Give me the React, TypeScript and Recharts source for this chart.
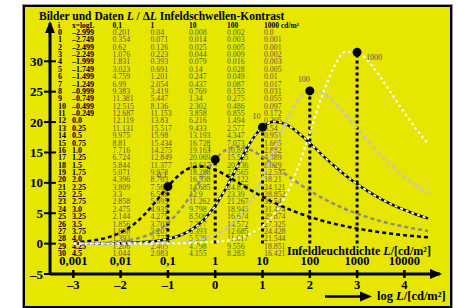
import React from 'react';
import { ComposedChart, Line, XAxis, YAxis, Scatter, ReferenceLine } from 'recharts';

// x = log L, one row per table index i
const xLog = [-2.999, -2.749, -2.499, -2.249, -1.999, -1.749, -1.499, -1.249, -0.999, -0.749, -0.499, -0.249,
  0.0, 0.25, 0.5, 0.75, 1.0, 1.25, 1.5, 1.75, 2.0, 2.25, 2.5, 2.75, 3.0, 3.25, 3.5, 3.75, 4.0, 4.25, 4.5];

// threshold contrast for the five adaptation luminances
const lum01 = [0.201, 0.354, 0.62, 1.076, 1.831, 3.023, 4.759, 6.99, 9.383, 11.381, 12.515, 12.687, 12.119, 11.131,
  9.975, 8.81, 7.716, 6.724, 5.844, 5.071, 4.396, 3.809, 3.3, 2.858, 2.475, 2.144, 1.856, 1.608, 1.392, 1.206, 1.044];
const lum1 = [0.04, 0.071, 0.126, 0.223, 0.393, 0.691, 1.201, 2.054, 3.419, 5.447, 8.136, 11.153, 13.83, 15.517,
  15.98, 15.434, 14.275, 12.849, 11.377, 9.978, 8.703, 7.565, 6.568, 5.695, 4.935, 4.275, 3.703, 3.207, 2.777, 2.405, 2.083];
const lum10 = [0.008, 0.014, 0.025, 0.044, 0.079, 0.14, 0.247, 0.437, 0.769, 1.34, 2.302, 3.858, 6.216, 9.433,
  13.193, 16.728, 19.163, 20.069, 19.617, 18.288, 16.538, 14.685, 12.9, 11.262, 9.798, 8.506, 7.377, 6.393, 5.539, 4.798, 4.155];
const lum100 = [0.002, 0.003, 0.005, 0.009, 0.016, 0.028, 0.049, 0.087, 0.155, 0.275, 0.486, 0.855, 1.494, 2.577,
  4.347, 7.073, 10.894, 15.565, 20.136, 23.565, 25.122, 24.878, 23.39, 21.267, 18.945, 16.674, 14.572, 12.685, 11.017, 9.556, 8.283];
const lum1000 = [0.0, 0.001, 0.001, 0.002, 0.003, 0.005, 0.01, 0.017, 0.031, 0.055, 0.097, 0.172, 0.305, 0.54,
  0.951, 1.665, 2.882, 4.889, 8.029, 12.537, 18.21, 24.121, 28.852, 31.54, 31.474, 29.874, 27.325, 24.428, 21.544, 18.851, 16.421];

const lumHeaders = ['0,1', '1', '10', '100', '1000 cd/m²'];
const markerX = [-1, 0, 1, 2, 3];
const markerLabels = ['0.1', '1', '10', '100', '1000'];
const xTicks = [-3, -2, -1, 0, 1, 2, 3, 4];
const xTickLabels = ['–3', '–2', '–1', '0', '1', '2', '3', '4'];
const lumTickLabels = ['0,001', '0,01', '0,1', '1', '10', '100', '1000', '10000'];
const yTicks = [-5, 0, 5, 10, 15, 20, 25, 30];
const yTickLabels = ['–5', '0', '5', '10', '15', '20', '25', '30'];

const W = 457;
const H = 308;
const FONT = '"Liberation Serif", "Times New Roman", serif';
const YELLOW = '#e6e600';
const colX = [112.5, 150.5, 189, 227, 264];

const fmt = (v: number) => (Number.isInteger(v) ? v.toFixed(1) : String(v)).replace('-', '–');

const series = [lum01, lum1, lum10, lum100, lum1000];
const rows = xLog.map((x, i) => ({ x, c0: lum01[i], c1: lum1[i], c2: lum10[i], c3: lum100[i], c4: lum1000[i] }));
const markers = markerX.map((x, k) => {
  const i = xLog.findIndex(v => Math.abs(v - x) < 0.01);
  return { x, y: series[k][i], label: markerLabels[k], k };
});

const XTick = (p: any) => {
  const { x, y, payload } = p;
  const idx = xTicks.indexOf(payload.value);
  return (
    <g>
      <line x1={x} x2={x} y1={y - 4} y2={y + 4} stroke="#000" strokeWidth={2.5} />
      <text x={x} y={y - 9} textAnchor="middle" fontWeight="bold" fontSize={12.5} fontFamily={FONT} fill="#000">
        {lumTickLabels[idx]}
      </text>
      <text x={x} y={y + 15} textAnchor="middle" fontWeight="bold" fontSize={12.5} fontFamily={FONT} fill="#000">
        {xTickLabels[idx]}
      </text>
    </g>
  );
};

const YTick = (p: any) => {
  const { x, y, payload } = p;
  const idx = yTicks.indexOf(payload.value);
  return (
    <g>
      <line x1={x - 6} x2={x + 6} y1={y} y2={y} stroke="#000" strokeWidth={2} />
      <text x={x - 7} y={y + 4.5} textAnchor="end" fontWeight="bold" fontSize={13} fontFamily={FONT} fill="#000">
        {yTickLabels[idx]}
      </text>
    </g>
  );
};

const MarkerShape = (p: any) => {
  const { cx, cy, payload } = p;
  const last = payload.k === markerLabels.length - 1;
  return (
    <g>
      <circle cx={cx} cy={cy} r={4.5} fill="#000" />
      <text x={last ? cx + 9 : cx - 6} y={last ? cy + 8 : cy - 8.5} textAnchor={last ? 'start' : 'middle'}
        fontSize={8} fontFamily={FONT} fill="#555">{payload.label}</text>
    </g>
  );
};

export default function App() {
  return (
    <div style={{ position: 'absolute', left: 0, top: 0, width: W, height: H, background: '#fff', overflow: 'hidden' }}>
      <div style={{ position: 'absolute', left: 22, top: 4, width: 431, height: 304, boxSizing: 'border-box', border: '1px solid #9a9a9a' }} />
      <div style={{ position: 'absolute', left: 23, top: 5, width: 429, height: 303, boxSizing: 'border-box', border: '2px solid #000', background: YELLOW }} />

      {/* title and value table, underneath the curves */}
      <svg width={W} height={H} style={{ position: 'absolute', left: 0, top: 0 }} fontFamily={FONT}>
        <text x={39} y={19.5} fontWeight="bold" fontSize={11.5} fill="#000">
          Bilder und Daten <tspan fontStyle="italic">L</tspan> / Δ<tspan fontStyle="italic">L</tspan>{'  '}Infeldschwellen-Kontrast
        </text>
        <text x={58} y={28} fontWeight="bold" fontSize={7.5}>i</text>
        <text x={72} y={28} fontWeight="bold" fontSize={7.5}>x=logL</text>
        {lumHeaders.map((h, k) => (
          <text key={h} x={colX[k]} y={28} fontWeight="bold" fontSize={7.5}>{h}</text>
        ))}
        {xLog.map((x, i) => {
          const y = 35 + i * 7.367;
          return (
            <g key={i}>
              <text x={58} y={y} fontWeight="bold" fontSize={8} fill="#000">{i}</text>
              <text x={72} y={y} fontWeight="bold" fontSize={8} fill="#000">{fmt(x)}</text>
              {series.map((s, k) => (
                <text key={k} x={colX[k]} y={y} fontSize={7.8} fill="#5a5a3a">{fmt(s[i])}</text>
              ))}
            </g>
          );
        })}
      </svg>

      <div style={{ position: 'absolute', left: 0, top: 0 }}>
        <ComposedChart width={W} height={H} data={rows} margin={{ top: 23, right: 17, bottom: 0, left: 10 }}>
          <XAxis type="number" dataKey="x" domain={[-3.493, 4.753]} ticks={xTicks} interval={0} allowDataOverflow
            axisLine={{ stroke: '#000', strokeWidth: 3 }} tickLine={false} tickSize={0} tickMargin={0}
            tick={(p: any) => <XTick {...p} />} height={34} />
          <YAxis type="number" domain={[-5, 36.3]} ticks={yTicks} interval={0} allowDataOverflow
            axisLine={{ stroke: '#000', strokeWidth: 3 }} tickLine={false} tickSize={0} tickMargin={0}
            tick={(p: any) => <YTick {...p} />} width={40} />
          {markers.map(m => (
            <ReferenceLine key={`v${m.x}`} segment={[{ x: m.x, y: 0 }, { x: m.x, y: m.y }]}
              stroke="#000" strokeWidth={3} strokeDasharray="3 3" ifOverflow="visible" />
          ))}
          <Line type="monotone" dataKey="c0" stroke="#000" strokeWidth={2.5} strokeDasharray="4 3" dot={false} isAnimationActive={false} />
          <Line type="monotone" dataKey="c1" stroke="#8c8c8c" strokeWidth={2.5} strokeDasharray="4 3" dot={false} isAnimationActive={false} />
          <Line type="monotone" dataKey="c2" stroke="#000" strokeWidth={2.5} dot={false} isAnimationActive={false} />
          <Line type="monotone" dataKey="c2" name="c2w" stroke="#fff" strokeWidth={1.8} strokeDasharray="3 3" dot={false} isAnimationActive={false} />
          <Line type="monotone" dataKey="c3" stroke="#c4c4c4" strokeWidth={2.5} strokeDasharray="4 3" dot={false} isAnimationActive={false} />
          <Line type="monotone" dataKey="c4" stroke="#fff" strokeWidth={2.2} strokeDasharray="2.5 3" dot={false} isAnimationActive={false} />
          <Scatter data={markers} dataKey="y" shape={(p: any) => <MarkerShape {...p} />} isAnimationActive={false} />
        </ComposedChart>
      </div>

      {/* axis arrows and axis captions */}
      <svg width={W} height={H} style={{ position: 'absolute', left: 0, top: 0, pointerEvents: 'none' }} fontFamily={FONT}>
        <polygon points="50,21 45,33 55,33" fill="#000" />
        <polygon points="442,274 430,269 430,279" fill="#000" />
        <text x={287} y={255} fontWeight="bold" fontSize={12} fill="#000">
          Infeldleuchtdichte <tspan fontStyle="italic">L</tspan>/[cd/m²]
        </text>
        <line x1={325} x2={362} y1={296.5} y2={296.5} stroke="#000" strokeWidth={2.5} />
        <polygon points="372,296.5 360,291.5 360,301.5" fill="#000" />
        <text x={377} y={300} fontWeight="bold" fontSize={12.5} fill="#000">
          log <tspan fontStyle="italic">L</tspan>/[cd/m²]
        </text>
      </svg>
    </div>
  );
}
